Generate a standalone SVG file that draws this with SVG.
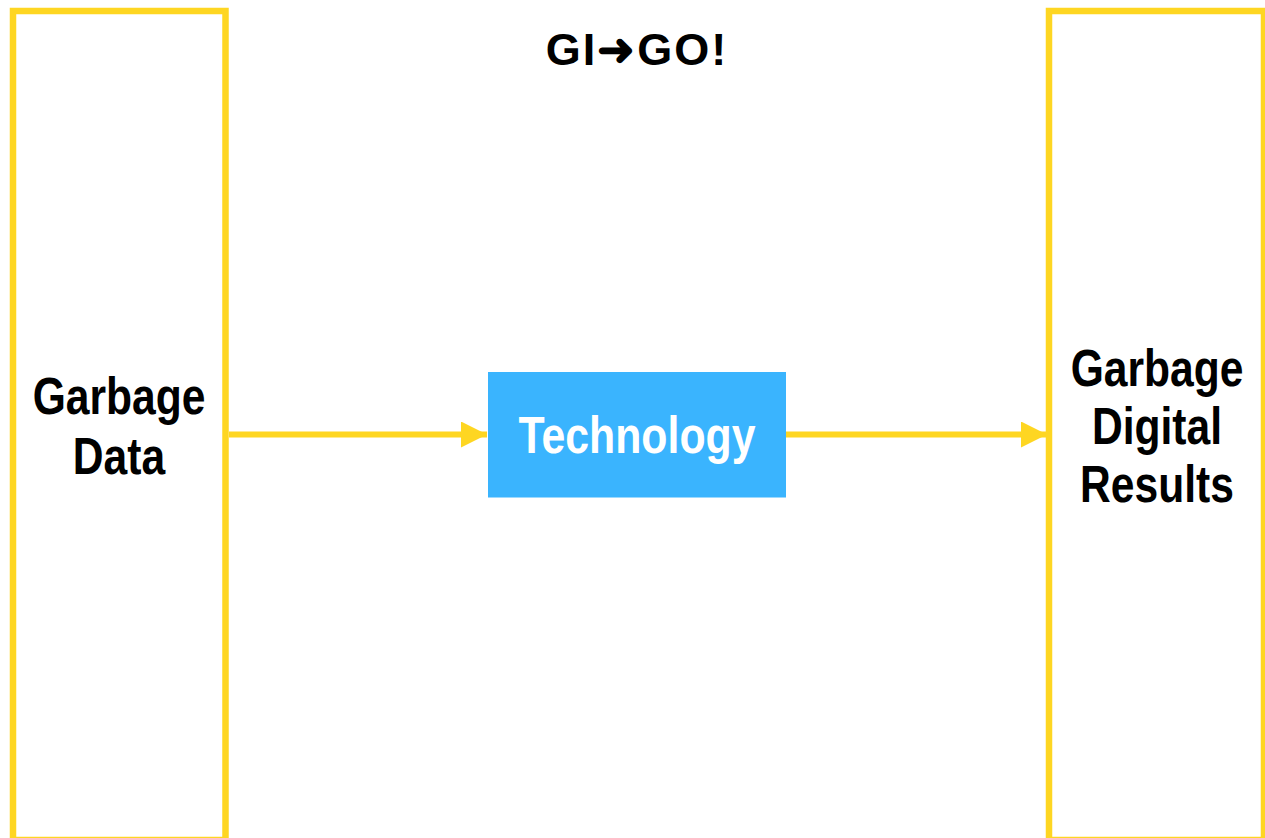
<svg xmlns="http://www.w3.org/2000/svg" width="1265" height="838" viewBox="0 0 1265 838">
  <defs>
    <style>
      .frame { fill: none; stroke: #FED622; stroke-width: 6.5; }
      .wire { fill: none; stroke: #FED622; stroke-width: 6; }
      .label { font-family: "Liberation Sans", Arial, sans-serif; font-weight: bold; font-size: 51px; text-anchor: middle; fill: #000; }
      .light { fill: #FFFFFF; }
      .title { font-family: "Liberation Sans", Arial, sans-serif; font-weight: bold; font-size: 45px; letter-spacing: 2px; text-anchor: middle; fill: #000; }
    </style>
    <marker id="arrow" viewBox="0 0 26 26" refX="26" refY="13" markerWidth="26" markerHeight="26" markerUnits="userSpaceOnUse" orient="auto">
      <path d="M0,0 L26,13 L0,26 Z" fill="#FED622"/>
    </marker>
  </defs>
  <rect width="1265" height="838" fill="#FFFFFF"/>

  <g id="title">
    <text class="title" x="637" y="65">GI➜GO!</text>
  </g>

  <g id="input">
    <rect class="frame" x="13" y="11" width="212.5" height="829"/>
    <g transform="translate(119,0) scale(0.835,1)">
      <text class="label" x="0" y="414">Garbage</text>
      <text class="label" x="0" y="474">Data</text>
    </g>
  </g>

  <g id="technology">
    <rect x="488" y="372" width="298" height="125.5" fill="#3AB4FE"/>
    <g transform="translate(637,0) scale(0.84,1)">
      <text class="label light" x="0" y="453">Technology</text>
    </g>
  </g>

  <g id="output">
    <rect class="frame" x="1049" y="11" width="215" height="829"/>
    <g transform="translate(1157,0) scale(0.835,1)">
      <text class="label" x="0" y="386">Garbage</text>
      <text class="label" x="0" y="444">Digital</text>
      <text class="label" x="0" y="502">Results</text>
    </g>
  </g>

  <g id="connectors">
    <line class="wire" x1="229" y1="434.5" x2="487" y2="434.5" marker-end="url(#arrow)"/>
    <line class="wire" x1="786" y1="434.5" x2="1047" y2="434.5" marker-end="url(#arrow)"/>
  </g>
</svg>
